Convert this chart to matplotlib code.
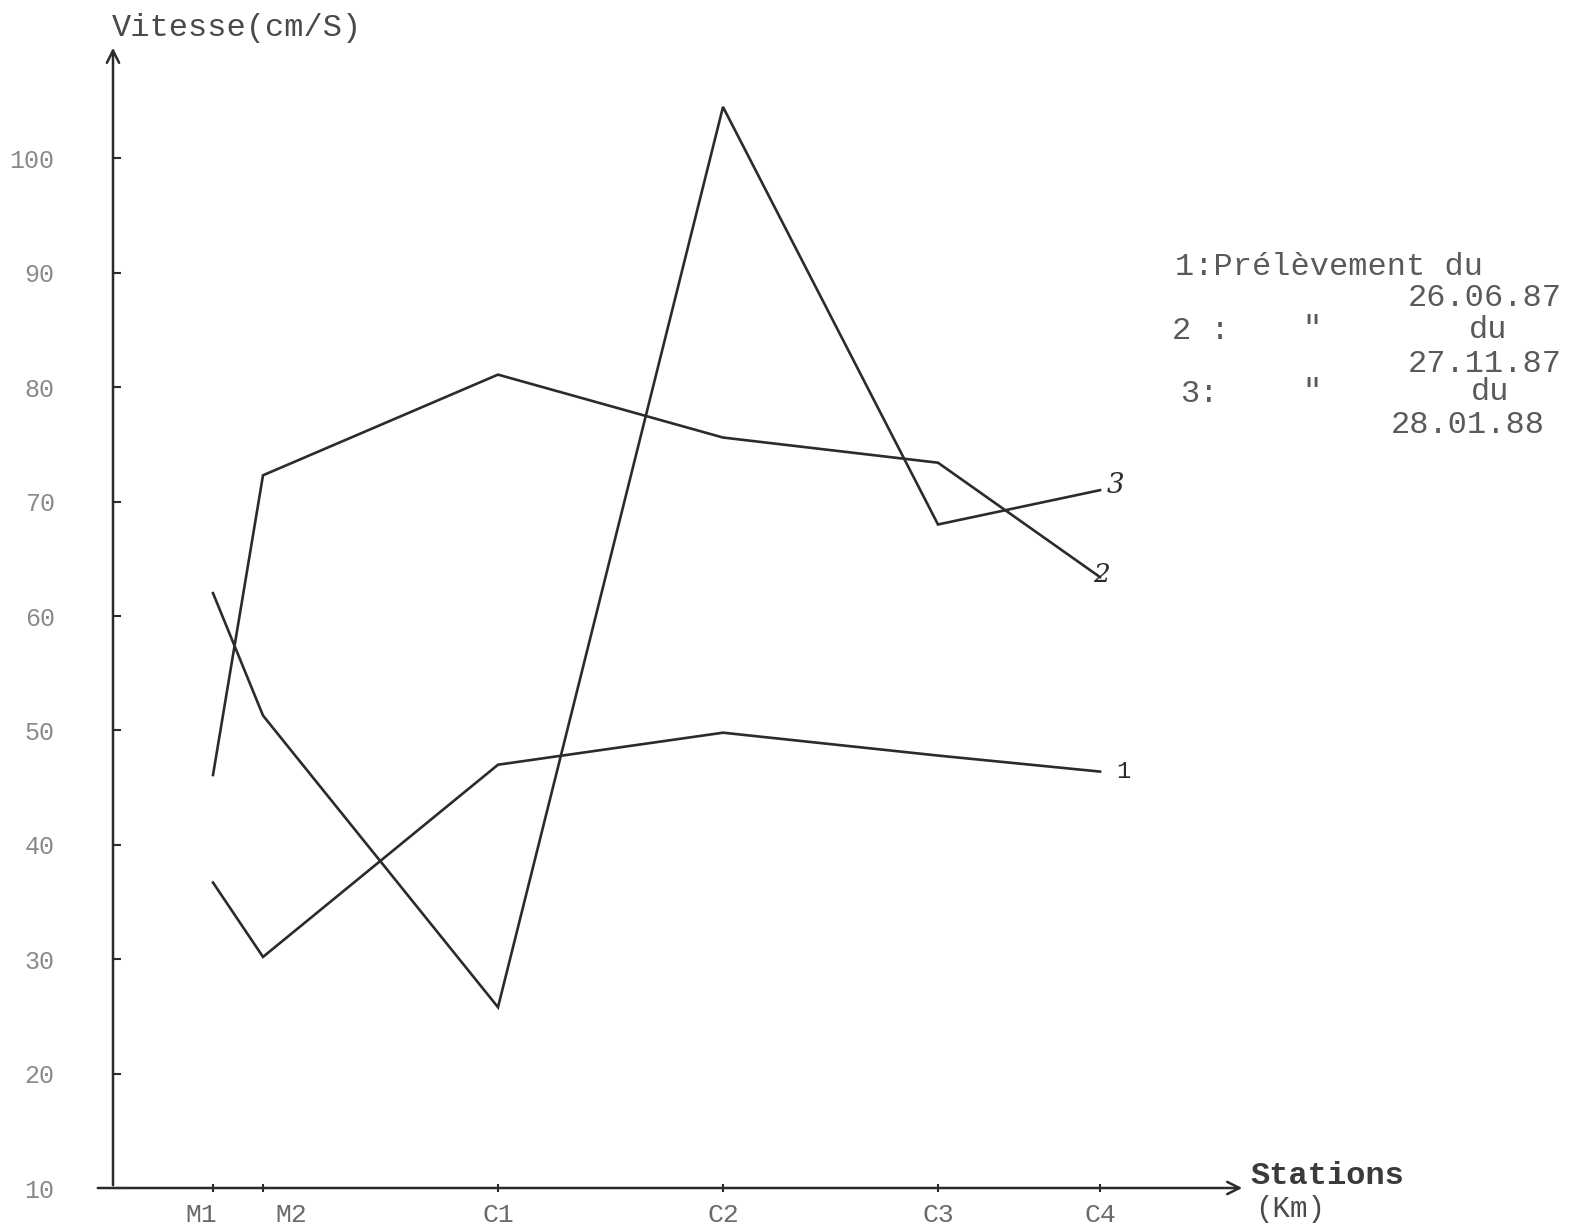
import matplotlib
matplotlib.use("Agg")
import matplotlib.pyplot as plt
from matplotlib.transforms import ScaledTranslation

# Stations along the river and their position on the distance axis
stations = ["M1", "M2", "C1", "C2", "C3", "C4"]
station_km = [1.0, 1.5, 3.85, 6.1, 8.25, 9.87]

# Current velocity (cm/s) per sampling campaign
vitesse_1 = [36.7, 30.2, 47.0, 49.8, 47.8, 46.4]    # 26.06.87
vitesse_2 = [46.1, 72.3, 81.1, 75.6, 73.4, 63.4]    # 27.11.87
vitesse_3 = [62.0, 51.3, 25.8, 104.5, 68.0, 71.0]   # 28.01.88

series_labels = ["1", "2", "3"]
y_ticks = [10, 20, 30, 40, 50, 60, 70, 80, 90, 100]

W, H = 1575, 1228
fig = plt.figure(figsize=(W / 100, H / 100), dpi=100)
fig.patch.set_facecolor("white")

mono = ["Liberation Mono", "DejaVu Sans Mono"]
ink = "#2b2b2b"
faded = "#8a8a8a"

# axes area: origin of the hand-drawn frame to the arrow tips
x0_px, y0_px = 113, 1188
x1_px, y1_px = 1245, 45
ax = fig.add_axes([x0_px / W, (H - y0_px) / H, (x1_px - x0_px) / W, (y0_px - y1_px) / H])
ax.set_xlim(0, (x1_px - x0_px) / 100)
ax.set_ylim(10, 10 + (y0_px - y1_px) / 11.44)
ax.patch.set_alpha(0)
for s in ax.spines.values():
    s.set_visible(False)

# axis lines with arrow heads
ax.annotate("", xy=(0, ax.get_ylim()[1]), xytext=(0, 10),
            arrowprops=dict(arrowstyle="->", lw=1.8, color=ink, mutation_scale=22),
            annotation_clip=False)
ax.annotate("", xy=(ax.get_xlim()[1], 10), xytext=(-0.18, 10),
            arrowprops=dict(arrowstyle="->", lw=1.8, color=ink, mutation_scale=22),
            annotation_clip=False)

# ticks
ax.set_yticks(y_ticks)
ax.set_yticklabels([str(v) for v in y_ticks], family=mono, fontsize=18, color=faded)
ax.tick_params(axis="y", direction="in", length=6, width=1.5, color=ink, pad=42)
ax.set_xticks(station_km)
ax.set_xticklabels(stations, family=mono, fontsize=19, color="#6a6a6a")
ax.tick_params(axis="x", direction="inout", length=6, width=1.5, color=ink, pad=8)

# spread the two close upstream station names apart
label_shift_px = {"M1": -12, "M2": 28}
for t in ax.get_xticklabels():
    dx = label_shift_px.get(t.get_text(), 0)
    if dx:
        t.set_transform(t.get_transform() + ScaledTranslation(dx / 100, 0, fig.dpi_scale_trans))

# the three campaigns
for vals in [vitesse_1, vitesse_2, vitesse_3]:
    ax.plot(station_km, vals, color=ink, lw=1.9, solid_joinstyle="miter", clip_on=False)

ax.annotate(series_labels[0], xy=(station_km[-1], vitesse_1[-1]), xytext=(12, 0),
            textcoords="offset points", va="center", ha="left",
            fontsize=17, color=ink, family=mono)
ax.annotate(series_labels[1], xy=(station_km[-1], vitesse_2[-1]), xytext=(-5, 2),
            textcoords="offset points", va="center", ha="left",
            fontsize=19, color=ink, family="DejaVu Serif", style="italic")
ax.annotate(series_labels[2], xy=(station_km[-1], vitesse_3[-1]), xytext=(5, 3),
            textcoords="offset points", va="center", ha="left",
            fontsize=20, color=ink, family="DejaVu Serif", style="italic")

# axis titles
fig.text(112 / W, 1 - 28 / H, "Vitesse(cm/S)", family=mono, fontsize=23,
         color="#4a4a4a", ha="left", va="center")
fig.text(1250 / W, 1 - 1176 / H, "Stations", family=mono, fontsize=23,
         color="#3a3a3a", ha="left", va="center", weight="bold")
fig.text(1255 / W, 1 - 1209 / H, "(Km)", family=mono, fontsize=21,
         color="#4a4a4a", ha="left", va="center")

# legend block
leg_kw = dict(family=mono, fontsize=23, color="#5a5a5a", va="center")
fig.text(1175 / W, 1 - 267 / H, "1:Prélèvement du", ha="left", **leg_kw)
fig.text(1562 / W, 1 - 298 / H, "26.06.87", ha="right", **leg_kw)
fig.text(1172 / W, 1 - 331 / H, "2 :", ha="left", **leg_kw)
fig.text(1312 / W, 1 - 329 / H, "\"", ha="center", **leg_kw)
fig.text(1488 / W, 1 - 330 / H, "du", ha="center", **leg_kw)
fig.text(1562 / W, 1 - 364 / H, "27.11.87", ha="right", **leg_kw)
fig.text(1180 / W, 1 - 394 / H, "3:", ha="left", **leg_kw)
fig.text(1312 / W, 1 - 392 / H, "\"", ha="center", **leg_kw)
fig.text(1490 / W, 1 - 392 / H, "du", ha="center", **leg_kw)
fig.text(1545 / W, 1 - 425 / H, "28.01.88", ha="right", **leg_kw)

fig.savefig("out.png", dpi=100, facecolor="white")
